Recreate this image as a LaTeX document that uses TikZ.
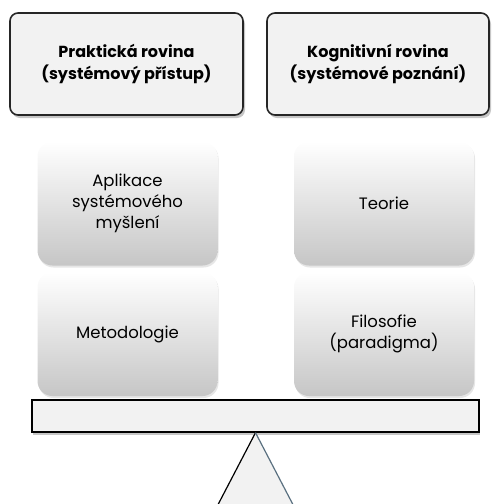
\documentclass[tikz,border=0pt]{standalone}
\usepackage{fontspec}
\setmainfont{Poppins}
\usepackage{tikz}
\usetikzlibrary{positioning, shadows}
\usepackage{xcolor}

\definecolor{planefill}{HTML}{F2F2F2}
\definecolor{blockgray}{HTML}{C6C6C6}
\definecolor{edgeblue}{HTML}{5A7080}

\tikzset{
  plane/.style={draw=black!85, line width=1.6pt, fill=planefill, rounded corners=8pt,
    align=center, inner sep=0pt, font=\bfseries\fontsize{16}{21.5}\selectfont,
    drop shadow={shadow xshift=2pt, shadow yshift=-3pt, opacity=0.45}},
  block/.style={rounded corners=15pt, top color=white, bottom color=blockgray,
    minimum width=180, minimum height=124, align=center, inner sep=0pt,
    font=\fontsize{16.5}{21}\selectfont,
    drop shadow={shadow xshift=1pt, shadow yshift=-2pt, opacity=0.2}},
  beam/.style={draw=black, line width=1.4pt, fill=planefill, inner sep=0pt,
    drop shadow={shadow xshift=1pt, shadow yshift=-3pt, opacity=0.45}}
}

\begin{document}
\begin{tikzpicture}[x=1pt, y=-1pt]
      \useasboundingbox (0,0) rectangle (491,504);

      % Top planes
      \node [plane, minimum width=233, minimum height=102] (plane-1) at (126.5,64)
        {Praktická rovina\\(systémový přístup)};
      \node [plane, minimum width=222, minimum height=102] (plane-2) at (378,64)
        {Kognitivní rovina\\(systémové poznání)};

      % Blocks on the beam
      \foreach \x/\y/\l [count=\i] in {127.5/203.5/{Aplikace\\systémového\\myšlení},
          127.5/334/Metodologie, 384/203.5/Teorie, 384/334/{Filosofie\\(paradigma)}}
        \node [block] (block-\i) at (\x,\y) {\l};

      % Beam and pivot
      \node [beam, minimum width=447, minimum height=32] (beam) at (255.5,416) {};
      \coordinate (base-l) at (210,520);
      \coordinate (base-r) at (301,520);
      \fill [planefill] (beam.south) -- (base-l) -- (base-r) -- cycle;
      \draw [line width=1.2pt, black] (beam.south) -- (base-l);
      \draw [line width=1.2pt, edgeblue] (beam.south) -- (base-r);
    \end{tikzpicture}
\end{document}
